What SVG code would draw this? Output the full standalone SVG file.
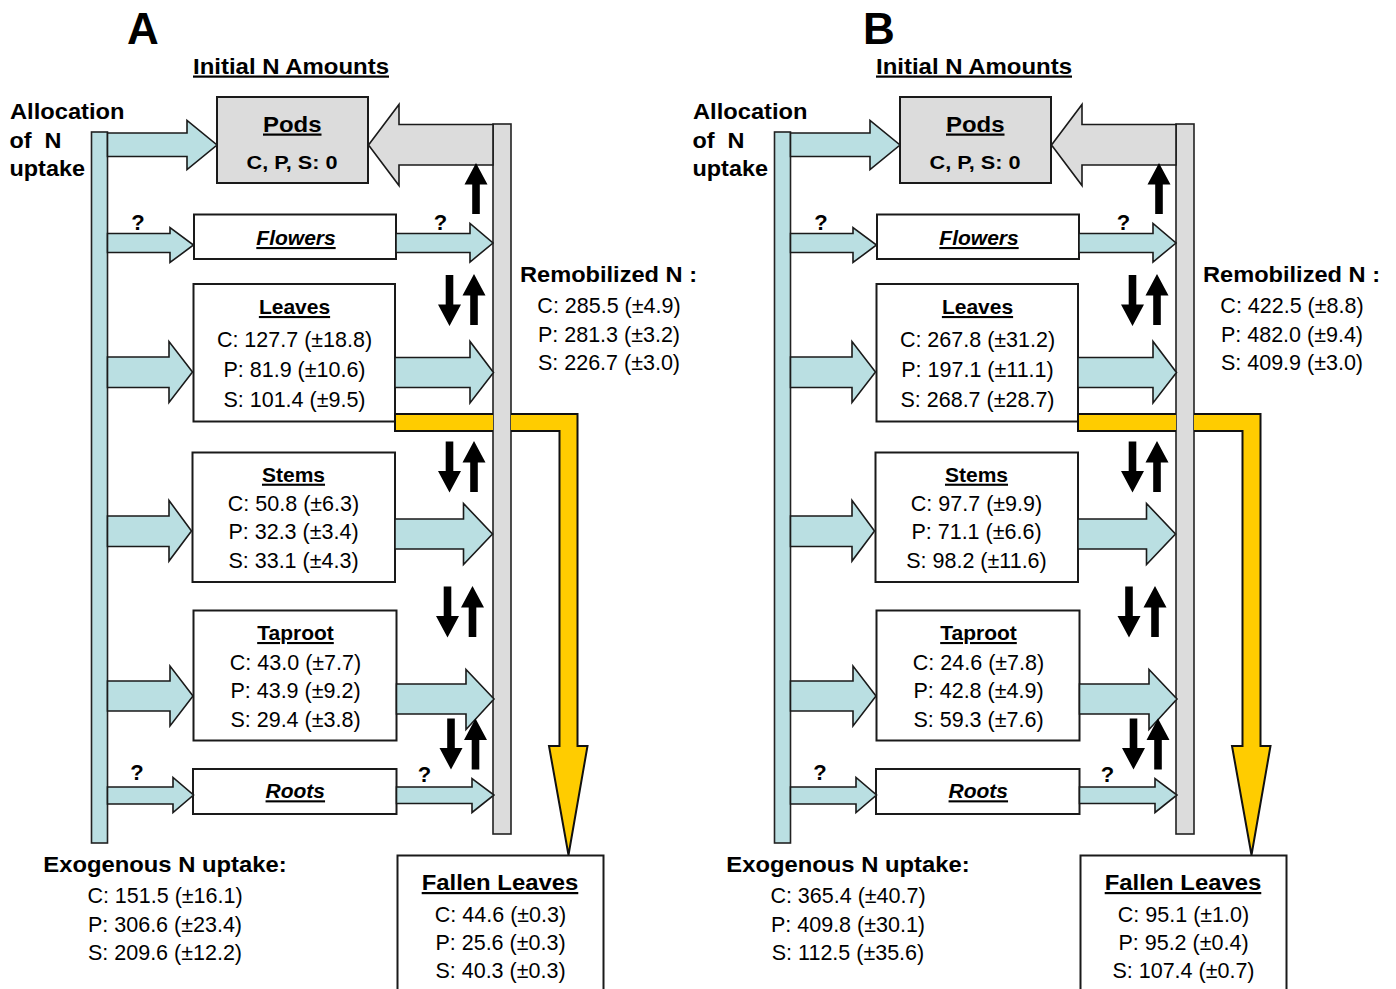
<svg xmlns="http://www.w3.org/2000/svg" xmlns:xlink="http://www.w3.org/1999/xlink" width="1396" height="989" viewBox="0 0 1396 989">
  <style>
    .t { font-family: "Liberation Sans", Arial, Helvetica, sans-serif; fill: #000; }
    .big { font-weight: bold; font-size: 44px; }
    .hd { font-weight: bold; font-size: 22px; }
    .sm { font-weight: bold; font-size: 18px; }
    .lb { font-weight: bold; font-size: 21px; text-anchor: middle; }
    .it { font-style: italic; }
    .u { text-decoration: underline; }
    .v { font-size: 21.5px; text-anchor: middle; }
    .q { font-weight: bold; font-size: 22px; text-anchor: middle; }
    .box { fill: #fff; stroke: #1a1a1a; stroke-width: 2; }
    .podbox { fill: #dcdcdc; stroke: #1a1a1a; stroke-width: 2; }
    .bluebar { fill: #badfe2; stroke: #222; stroke-width: 1.6; }
    .greybar { fill: #dcdcdc; stroke: #222; stroke-width: 1.6; }
    .blue { fill: #badfe2; stroke: #1a1a1a; stroke-width: 1.6; stroke-linejoin: miter; }
    .grey { fill: #dcdcdc; stroke: #1a1a1a; stroke-width: 1.6; stroke-linejoin: miter; }
    .gold { fill: #ffcc00; stroke: #111; stroke-width: 2; stroke-linejoin: miter; }
    .blk { fill: #000; }
  </style>
  <defs>
    <!-- solid black exchange arrow, tip at origin pointing up -->
    <path id="up" class="blk" d="M0,0 L11.5,21.5 L3.8,21.5 L3.8,51 L-3.8,51 L-3.8,21.5 L-11.5,21.5 Z"/>
  </defs>
  <rect x="0" y="0" width="1396" height="989" fill="#fff"/>

  <!-- ================= Panel A ================= -->
  <g id="panel-a">
    <text class="t big" x="127" y="44">A</text>
    <g id="a-initial-label">
      <text class="t hd u" x="193" y="73.5" textLength="196" lengthAdjust="spacingAndGlyphs">Initial N Amounts</text>
    </g>

    <!-- uptake pool -->
    <g id="a-uptake">
      <rect class="bluebar" x="91.5" y="132" width="16" height="711"/>
      <text class="t hd" x="10" y="119" textLength="114.5" lengthAdjust="spacingAndGlyphs">Allocation</text>
      <text class="t hd" x="9.5" y="148" textLength="52" lengthAdjust="spacingAndGlyphs" xml:space="preserve">of  N</text>
      <text class="t hd" x="9.5" y="176" textLength="75.5" lengthAdjust="spacingAndGlyphs">uptake</text>
      <text class="t hd" x="43.3" y="871.7" textLength="243.4" lengthAdjust="spacingAndGlyphs">Exogenous N uptake:</text>
      <text class="t v" x="165" y="903">C: 151.5 (±16.1)</text>
      <text class="t v" x="165" y="931.5">P: 306.6 (±23.4)</text>
      <text class="t v" x="165" y="959.5">S: 209.6 (±12.2)</text>
    </g>

    <!-- remobilization pool -->
    <g id="a-remobilized">
      <rect class="greybar" x="493" y="124" width="18" height="710"/>
      <text class="t hd" x="520" y="281.7" textLength="177" lengthAdjust="spacingAndGlyphs">Remobilized N :</text>
      <text class="t v" x="609" y="313.3">C: 285.5 (±4.9)</text>
      <text class="t v" x="609" y="341.7">P: 281.3 (±3.2)</text>
      <text class="t v" x="609" y="369.5">S: 226.7 (±3.0)</text>
    </g>

    <g id="a-pods">
      <rect class="podbox" x="217" y="97" width="151" height="86"/>
      <text class="t hd u" x="263" y="131.5" textLength="58.5" lengthAdjust="spacingAndGlyphs">Pods</text>
      <text class="t sm" x="246.5" y="169" textLength="91" lengthAdjust="spacingAndGlyphs">C, P, S: 0</text>
    </g>
    <g id="a-flowers">
      <rect class="box" x="194" y="214.5" width="202" height="44.5"/>
      <text class="t lb it u" x="296" y="245" font-size="20">Flowers</text>
    </g>
    <g id="a-leaves">
      <rect class="box" x="193.5" y="284" width="201.5" height="137.5"/>
      <text class="t lb u" x="294.5" y="314">Leaves</text>
      <text class="t v" x="294.5" y="347">C: 127.7 (±18.8)</text>
      <text class="t v" x="294.5" y="377">P: 81.9 (±10.6)</text>
      <text class="t v" x="294.5" y="407">S: 101.4 (±9.5)</text>
    </g>
    <g id="a-stems">
      <rect class="box" x="192.5" y="452.5" width="202.5" height="129.5"/>
      <text class="t lb u" x="293.5" y="481.7">Stems</text>
      <text class="t v" x="293.5" y="510.7">C: 50.8 (±6.3)</text>
      <text class="t v" x="293.5" y="539.3">P: 32.3 (±3.4)</text>
      <text class="t v" x="293.5" y="568.3">S: 33.1 (±4.3)</text>
    </g>
    <g id="a-taproot">
      <rect class="box" x="193.5" y="610.5" width="203" height="130"/>
      <text class="t lb u" x="295.5" y="640">Taproot</text>
      <text class="t v" x="295.5" y="670">C: 43.0 (±7.7)</text>
      <text class="t v" x="295.5" y="698.3">P: 43.9 (±9.2)</text>
      <text class="t v" x="295.5" y="726.7">S: 29.4 (±3.8)</text>
    </g>
    <g id="a-roots">
      <rect class="box" x="193" y="769" width="203.5" height="45"/>
      <text class="t lb it u" x="295.3" y="798.3">Roots</text>
    </g>
    <g id="a-fallen">
      <rect class="box" x="397.5" y="855.5" width="206" height="140"/>
      <text class="t hd u" x="421.7" y="890" textLength="156.6" lengthAdjust="spacingAndGlyphs">Fallen Leaves</text>
      <text class="t v" x="500.5" y="921.7">C: 44.6 (±0.3)</text>
      <text class="t v" x="500.5" y="950">P: 25.6 (±0.3)</text>
      <text class="t v" x="500.5" y="977.7">S: 40.3 (±0.3)</text>
    </g>

    <g id="a-connectors">
      <!-- leaf fall: leaves to fallen leaves, passing behind the remobilization pool -->
      <path class="gold" d="M493,414 H395 V431 H493"/>
      <path class="gold" d="M511,414 H577.5 V746 H587.5 L568.5,855 L549,746 H559.5 V431 H511"/>
      <!-- uptake allocation -->
      <path class="blue" d="M107.5,133 H187 V120.5 L217,145 L187,169.5 V156.5 H107.5 Z"/>
      <path class="blue" d="M107.5,233.5 H170 V227.5 L193.5,245 L170,262.5 V252.5 H107.5 Z"/>
      <path class="blue" d="M107.5,357 H169 V341.5 L192.5,372 L169,402.5 V387.5 H107.5 Z"/>
      <path class="blue" d="M107.5,516 H169 V500.5 L191.5,531 L169,561 V546.5 H107.5 Z"/>
      <path class="blue" d="M107.5,681 H170 V666 L193,696 L170,726 V711 H107.5 Z"/>
      <path class="blue" d="M107.5,787 H173 V777.5 L193.5,795 L173,812.5 V804 H107.5 Z"/>
      <!-- remobilization from organs -->
      <path class="blue" d="M396,233.5 H470 V223.5 L493,243 L470,262 V252.5 H396 Z"/>
      <path class="blue" d="M395,357.5 H470 V341.5 L493.5,372.5 L470,403 V387.5 H395 Z"/>
      <path class="blue" d="M395,519 H463.5 V503.5 L492.5,534 L463.5,564.5 V549 H395 Z"/>
      <path class="blue" d="M396.5,684 H466 V669.5 L494,699 L466,729.5 V714 H396.5 Z"/>
      <path class="blue" d="M396.5,787 H472 V778.5 L494,795 L472,812.5 V803.5 H396.5 Z"/>
      <!-- remobilized N to pods -->
      <path class="grey" d="M493,124.5 H399 V104.5 L368.5,145 L399,185.5 V165 H493 Z"/>
      <!-- exchange arrows -->
      <use href="#up" x="476" y="163"/>
      <use href="#up" transform="translate(449.5,326) scale(1,-1)"/>
      <use href="#up" x="474" y="274"/>
      <use href="#up" transform="translate(449.5,492.5) scale(1,-1)"/>
      <use href="#up" x="474" y="441"/>
      <use href="#up" transform="translate(447.5,637.5) scale(1,-1)"/>
      <use href="#up" x="472.5" y="586"/>
      <use href="#up" transform="translate(451,769.5) scale(1,-1)"/>
      <use href="#up" x="475.5" y="718.5"/>
      <!-- unknown fluxes -->
      <text class="t q" x="138" y="230">?</text>
      <text class="t q" x="440.5" y="230">?</text>
      <text class="t q" x="137" y="780">?</text>
      <text class="t q" x="424.5" y="781.5">?</text>
    </g>
  </g>

  <!-- ================= Panel B ================= -->
  <g id="panel-b" transform="translate(683,0)">
    <text class="t big" x="180" y="44">B</text>
    <g id="b-initial-label">
      <text class="t hd u" x="193" y="73.5" textLength="196" lengthAdjust="spacingAndGlyphs">Initial N Amounts</text>
    </g>

    <g id="b-uptake">
      <rect class="bluebar" x="91.5" y="132" width="16" height="711"/>
      <text class="t hd" x="10" y="119" textLength="114.5" lengthAdjust="spacingAndGlyphs">Allocation</text>
      <text class="t hd" x="9.5" y="148" textLength="52" lengthAdjust="spacingAndGlyphs" xml:space="preserve">of  N</text>
      <text class="t hd" x="9.5" y="176" textLength="75.5" lengthAdjust="spacingAndGlyphs">uptake</text>
      <text class="t hd" x="43.3" y="871.7" textLength="243.4" lengthAdjust="spacingAndGlyphs">Exogenous N uptake:</text>
      <text class="t v" x="165" y="903">C: 365.4 (±40.7)</text>
      <text class="t v" x="165" y="931.5">P: 409.8 (±30.1)</text>
      <text class="t v" x="165" y="959.5">S: 112.5 (±35.6)</text>
    </g>

    <g id="b-remobilized">
      <rect class="greybar" x="493" y="124" width="18" height="710"/>
      <text class="t hd" x="520" y="281.7" textLength="177" lengthAdjust="spacingAndGlyphs">Remobilized N :</text>
      <text class="t v" x="609" y="313.3">C: 422.5 (±8.8)</text>
      <text class="t v" x="609" y="341.7">P: 482.0 (±9.4)</text>
      <text class="t v" x="609" y="369.5">S: 409.9 (±3.0)</text>
    </g>

    <g id="b-pods">
      <rect class="podbox" x="217" y="97" width="151" height="86"/>
      <text class="t hd u" x="263" y="131.5" textLength="58.5" lengthAdjust="spacingAndGlyphs">Pods</text>
      <text class="t sm" x="246.5" y="169" textLength="91" lengthAdjust="spacingAndGlyphs">C, P, S: 0</text>
    </g>
    <g id="b-flowers">
      <rect class="box" x="194" y="214.5" width="202" height="44.5"/>
      <text class="t lb it u" x="296" y="245" font-size="20">Flowers</text>
    </g>
    <g id="b-leaves">
      <rect class="box" x="193.5" y="284" width="201.5" height="137.5"/>
      <text class="t lb u" x="294.5" y="314">Leaves</text>
      <text class="t v" x="294.5" y="347">C: 267.8 (±31.2)</text>
      <text class="t v" x="294.5" y="377">P: 197.1 (±11.1)</text>
      <text class="t v" x="294.5" y="407">S: 268.7 (±28.7)</text>
    </g>
    <g id="b-stems">
      <rect class="box" x="192.5" y="452.5" width="202.5" height="129.5"/>
      <text class="t lb u" x="293.5" y="481.7">Stems</text>
      <text class="t v" x="293.5" y="510.7">C: 97.7 (±9.9)</text>
      <text class="t v" x="293.5" y="539.3">P: 71.1 (±6.6)</text>
      <text class="t v" x="293.5" y="568.3">S: 98.2 (±11.6)</text>
    </g>
    <g id="b-taproot">
      <rect class="box" x="193.5" y="610.5" width="203" height="130"/>
      <text class="t lb u" x="295.5" y="640">Taproot</text>
      <text class="t v" x="295.5" y="670">C: 24.6 (±7.8)</text>
      <text class="t v" x="295.5" y="698.3">P: 42.8 (±4.9)</text>
      <text class="t v" x="295.5" y="726.7">S: 59.3 (±7.6)</text>
    </g>
    <g id="b-roots">
      <rect class="box" x="193" y="769" width="203.5" height="45"/>
      <text class="t lb it u" x="295.3" y="798.3">Roots</text>
    </g>
    <g id="b-fallen">
      <rect class="box" x="397.5" y="855.5" width="206" height="140"/>
      <text class="t hd u" x="421.7" y="890" textLength="156.6" lengthAdjust="spacingAndGlyphs">Fallen Leaves</text>
      <text class="t v" x="500.5" y="921.7">C: 95.1 (±1.0)</text>
      <text class="t v" x="500.5" y="950">P: 95.2 (±0.4)</text>
      <text class="t v" x="500.5" y="977.7">S: 107.4 (±0.7)</text>
    </g>

    <g id="b-connectors">
      <path class="gold" d="M493,414 H395 V431 H493"/>
      <path class="gold" d="M511,414 H577.5 V746 H587.5 L568.5,855 L549,746 H559.5 V431 H511"/>
      <path class="blue" d="M107.5,133 H187 V120.5 L217,145 L187,169.5 V156.5 H107.5 Z"/>
      <path class="blue" d="M107.5,233.5 H170 V227.5 L193.5,245 L170,262.5 V252.5 H107.5 Z"/>
      <path class="blue" d="M107.5,357 H169 V341.5 L192.5,372 L169,402.5 V387.5 H107.5 Z"/>
      <path class="blue" d="M107.5,516 H169 V500.5 L191.5,531 L169,561 V546.5 H107.5 Z"/>
      <path class="blue" d="M107.5,681 H170 V666 L193,696 L170,726 V711 H107.5 Z"/>
      <path class="blue" d="M107.5,787 H173 V777.5 L193.5,795 L173,812.5 V804 H107.5 Z"/>
      <path class="blue" d="M396,233.5 H470 V223.5 L493,243 L470,262 V252.5 H396 Z"/>
      <path class="blue" d="M395,357.5 H470 V341.5 L493.5,372.5 L470,403 V387.5 H395 Z"/>
      <path class="blue" d="M395,519 H463.5 V503.5 L492.5,534 L463.5,564.5 V549 H395 Z"/>
      <path class="blue" d="M396.5,684 H466 V669.5 L494,699 L466,729.5 V714 H396.5 Z"/>
      <path class="blue" d="M396.5,787 H472 V778.5 L494,795 L472,812.5 V803.5 H396.5 Z"/>
      <path class="grey" d="M493,124.5 H399 V104.5 L368.5,145 L399,185.5 V165 H493 Z"/>
      <use href="#up" x="476" y="163"/>
      <use href="#up" transform="translate(449.5,326) scale(1,-1)"/>
      <use href="#up" x="474" y="274"/>
      <use href="#up" transform="translate(449.5,492.5) scale(1,-1)"/>
      <use href="#up" x="474" y="441"/>
      <use href="#up" transform="translate(446,637.5) scale(1,-1)"/>
      <use href="#up" x="472" y="586"/>
      <use href="#up" transform="translate(450.5,769.5) scale(1,-1)"/>
      <use href="#up" x="475" y="718.5"/>
      <text class="t q" x="138" y="230">?</text>
      <text class="t q" x="440.5" y="230">?</text>
      <text class="t q" x="137" y="780">?</text>
      <text class="t q" x="424.5" y="781.5">?</text>
    </g>
  </g>
</svg>
